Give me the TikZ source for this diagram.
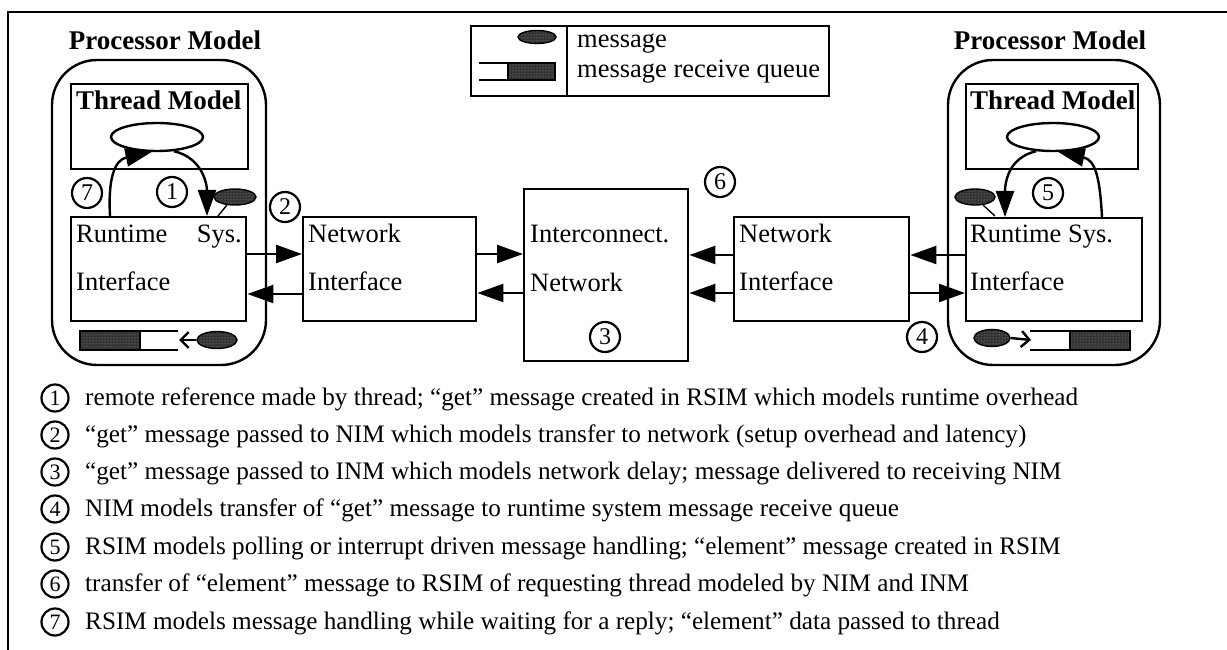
\documentclass[tikz,border=0pt]{standalone}
\usepackage{fontspec}
\setmainfont{Liberation Serif}
\usetikzlibrary{arrows.meta,shapes.geometric,patterns}
\begin{document}
\begin{tikzpicture}[x=1pt,y=-1pt,
 box/.style={draw, line width=2.4pt, inner sep=0, anchor=north west},
 proc/.style={draw, line width=2.4pt, rounded corners=45pt},
 lbl/.style={anchor=base west, inner sep=0, font=\fontsize{26.5}{30}\selectfont},
 ttl/.style={anchor=base, inner sep=0, font=\fontsize{27}{30}\selectfont\bfseries},
 num/.style={draw, circle, line width=2.2pt, minimum size=30pt, inner sep=0, font=\fontsize{24}{24}\selectfont},
 lnum/.style={num, minimum size=27pt, font=\fontsize{22}{22}\selectfont},
 item/.style={anchor=base west, inner sep=0, font=\fontsize{25.2}{28}\selectfont},
 conn/.style={line width=2.4pt, -{Triangle[length=26pt,width=18pt]}},
 msg/.style={draw, ellipse, line width=1.4pt, minimum width=40pt, minimum height=16pt, inner sep=0, preaction={fill=black!80}, pattern=dots, pattern color=black!35},
 thr/.style={draw, ellipse, line width=2.4pt, minimum width=92pt, minimum height=28pt, inner sep=0},
 qfill/.style={draw, line width=1.4pt, preaction={fill=black!80}, pattern=dots, pattern color=black!35},
 qline/.style={line width=2.4pt},
 chev/.style={line width=2.4pt, -{Straight Barb[length=8pt,width=16pt]}},
]
\useasboundingbox (0,0) rectangle (1227,650);
% outer frame
\draw[line width=2.6pt] (8,650) -- (8,12) -- (1227,12);

% legend
\node[box, minimum width=358pt, minimum height=70pt] (leg) at (470,25) {};
\draw[line width=2.4pt] (567,25) -- (567,95);
\node[msg, minimum width=38pt, minimum height=13pt] (legmsg) at (537,37) {};
\draw[qfill] (508,63) rectangle (555,80);
\draw[qline] (479,63) -- (508,63) (479,80) -- (508,80);
\node[lbl] (legt1) at (577,48) {message};
\node[lbl] (legt2) at (577,78) {message receive queue};

% left processor
\node[ttl] (titleL) at (165,50) {Processor Model};
\draw[proc] (52,60) rectangle (266,365);
\node[box, minimum width=177pt, minimum height=85pt] (threadL) at (70,83) {};
\node[ttl, anchor=base west] (thrtL) at (76,110) {Thread Model};
\node[thr] (ellL) at (157,137) {};
\node[box, minimum width=175pt, minimum height=104pt] (rtL) at (70,216) {};
\node[lbl] (rtL1) at (76,242) {Runtime};
\node[lbl, anchor=base east] (rtL2) at (242,242) {Sys.};
\node[lbl] (rtL3) at (76,290) {Interface};
\node[msg, minimum width=42pt] (msgL) at (235,197) {};
\draw[line width=1.4pt] (218,216) -- (msgL.-135);
\node[num] (c7) at (87,193) {7};
\node[num] (c1) at (172,192) {1};
\node[num] (c2) at (285,207) {2};
\draw[conn] (110,216) .. controls (108,180) and (114,160) .. (ellL.-110);
\draw[conn] (ellL.-40) .. controls (203,158) and (207,185) .. (207,216);
% left queue
\draw[qfill] (80,331) rectangle (140,350);
\draw[qline] (140,331) -- (178,331) (140,350) -- (178,350);
\node[msg, minimum width=40pt, minimum height=17pt] (qmsgL) at (217,340) {};
\draw[chev] (qmsgL.west) -- (179,340);

% network interface left
\node[box, minimum width=173pt, minimum height=104pt] (niL) at (302,216) {};
\node[lbl] (niL1) at (308,242) {Network};
\node[lbl] (niL2) at (308,290) {Interface};

% interconnect
\node[box, minimum width=164pt, minimum height=172pt] (icn) at (523,188) {};
\node[lbl] (icn1) at (530,242) {Interconnect.};
\node[lbl] (icn2) at (530,291) {Network};
\node[num] (c3) at (605,337) {3};
\node[num] (c6) at (720,182) {6};

% network interface right
\node[box, minimum width=175pt, minimum height=104pt] (niR) at (733,216) {};
\node[lbl] (niR1) at (739,242) {Network};
\node[lbl] (niR2) at (739,290) {Interface};

% right processor
\node[ttl] (titleR) at (1050,50) {Processor Model};
\draw[proc] (948,60) rectangle (1160,365);
\node[box, minimum width=172pt, minimum height=85pt] (threadR) at (965,83) {};
\node[ttl, anchor=base west] (thrtR) at (970,110) {Thread Model};
\node[thr] (ellR) at (1053,137) {};
\node[box, minimum width=176pt, minimum height=103pt] (rtR) at (965,217) {};
\node[lbl] (rtR1) at (970,242) {Runtime Sys.};
\node[lbl] (rtR2) at (970,290) {Interface};
\node[msg, minimum width=40pt] (msgR) at (975,197) {};
\draw[line width=1.4pt] (995,216) -- (msgR.-45);
\node[num] (c5) at (1048,193) {5};
\node[num] (c4) at (922,337) {4};
\draw[conn] (ellR.-140) .. controls (1007,158) and (1005,185) .. (1005,217);
\draw[conn] (1102,217) .. controls (1100,180) and (1096,160) .. (ellR.-70);
% right queue
\node[msg, minimum width=36pt, minimum height=17pt] (qmsgR) at (992,338) {};
\draw[qfill] (1070,331) rectangle (1130,350);
\draw[qline] (1030,331) -- (1070,331) (1030,350) -- (1070,350);
\draw[chev] (qmsgR.east) -- (1031,340);

% connectors
\draw[conn] (rtL.east |- 0,254) -- (niL.west |- 0,254);
\draw[conn] (niL.west |- 0,294) -- (rtL.east |- 0,294);
\draw[conn] (niL.east |- 0,254) -- (icn.west |- 0,254);
\draw[conn] (icn.west |- 0,293) -- (niL.east |- 0,293);
\draw[conn] (niR.west |- 0,255) -- (icn.east |- 0,255);
\draw[conn] (niR.west |- 0,293) -- (icn.east |- 0,293);
\draw[conn] (rtR.west |- 0,255) -- (niR.east |- 0,255);
\draw[conn] (niR.east |- 0,293) -- (rtR.west |- 0,293);

% explanation list
\node[lnum] (l1) at (55,398) {1};
\node[item] (t1) at (85,405) {remote reference made by thread; “get” message created in RSIM which models runtime overhead};
\node[lnum] (l2) at (55,435) {2};
\node[item] (t2) at (85,442) {“get” message passed to NIM which models transfer to network (setup overhead and latency)};
\node[lnum] (l3) at (55,472) {3};
\node[item] (t3) at (85,479) {“get” message passed to INM which models network delay; message delivered to receiving NIM};
\node[lnum] (l4) at (55,509) {4};
\node[item] (t4) at (85,516) {NIM models transfer of “get” message to runtime system message receive queue};
\node[lnum] (l5) at (55,547) {5};
\node[item] (t5) at (85,554) {RSIM models polling or interrupt driven message handling; “element” message created in RSIM};
\node[lnum] (l6) at (55,584) {6};
\node[item] (t6) at (85,591) {transfer of “element” message to RSIM of requesting thread modeled by NIM and INM};
\node[lnum] (l7) at (55,622) {7};
\node[item] (t7) at (85,629) {RSIM models message handling while waiting for a reply; “element” data passed to thread};
\end{tikzpicture}
\end{document}
